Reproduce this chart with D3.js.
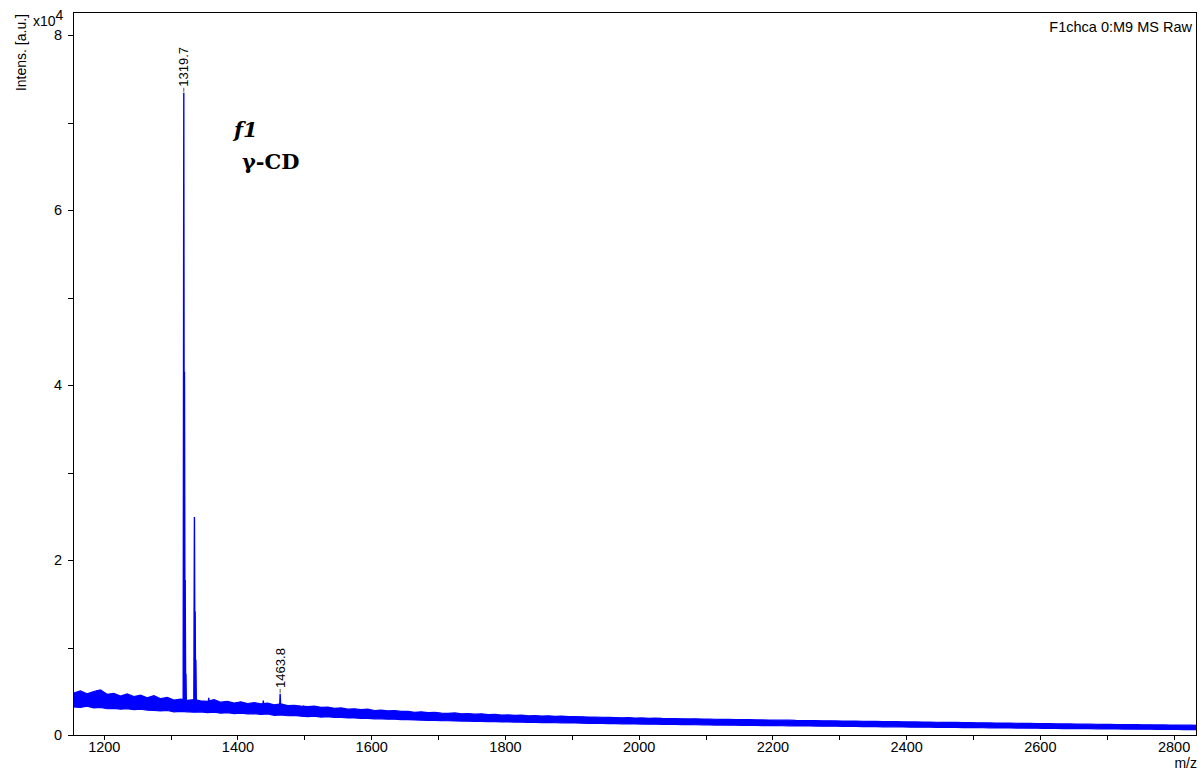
<!DOCTYPE html>
<html>
<head>
<meta charset="utf-8">
<script src="https://cdn.jsdelivr.net/npm/d3@7"></script>
<style>
  body { margin: 0; background: #fff; }
  svg { display: block; }
  text { font-family: Arial, "Liberation Sans", sans-serif; fill: #000; }
</style>
</head>
<body>
<svg id="chart" width="1203" height="773"></svg>
<script>
// MALDI-TOF spectrum of fraction f1 (gamma-cyclodextrin), raw intensities in a.u.

// Noise band of the spectrum: sampled every envStep m/z starting at envStart
const envStart = 1155;
const envStep = 10;
const envHigh = [
  4800, 5050, 4700, 4950, 5150, 4650, 4750, 4450, 4700, 4400,
  4550, 4250, 4500, 4150, 4300, 4000, 4100, 3950, 4050, 3900,
  3850, 4050, 3750, 3850, 3650, 3800, 3600, 3700, 3550, 3650,
  3450, 3550, 3350, 3400, 3300, 3250, 3300, 3150, 3200, 3050,
  3100, 2950, 3000, 2900, 2950, 2800, 2850, 2750, 2800, 2700,
  2700, 2600, 2650, 2550, 2600, 2500, 2480, 2520, 2420, 2450,
  2380, 2420, 2320, 2360, 2280, 2300, 2250, 2270, 2200, 2230,
  2160, 2190, 2130, 2150, 2100, 2110, 2080, 2060, 2040, 2030,
  2010, 1990, 1960, 1980, 1940, 1950, 1910, 1920, 1890, 1880,
  1870, 1860, 1840, 1850, 1820, 1810, 1800, 1790, 1780, 1760,
  1750, 1760, 1730, 1720, 1710, 1700, 1690, 1700, 1670, 1660,
  1650, 1640, 1630, 1620, 1610, 1600, 1590, 1590, 1570, 1560,
  1550, 1540, 1540, 1520, 1510, 1500, 1490, 1480, 1480, 1460,
  1450, 1440, 1440, 1420, 1410, 1400, 1400, 1380, 1370, 1360,
  1360, 1340, 1330, 1330, 1310, 1300, 1300, 1280, 1270, 1270,
  1250, 1240, 1240, 1230, 1210, 1210, 1200, 1190, 1180, 1180,
  1170, 1160, 1150, 1150, 1140, 1130, 1120, 1120, 1110
];
const envLow = [
  3200, 3150, 3300, 3100, 3150, 3000, 3050, 2950, 3000, 2900,
  2950, 2850, 2800, 2750, 2800, 2650, 2700, 2650, 2600, 2650,
  2550, 2600, 2500, 2550, 2450, 2500, 2400, 2450, 2350, 2400,
  2250, 2300, 2200, 2250, 2150, 2100, 2150, 2050, 2100, 2000,
  2000, 1950, 1950, 1900, 1900, 1850, 1850, 1800, 1800, 1760,
  1750, 1720, 1700, 1680, 1670, 1640, 1630, 1610, 1590, 1580,
  1560, 1550, 1530, 1520, 1500, 1490, 1480, 1460, 1450, 1440,
  1420, 1410, 1400, 1390, 1370, 1370, 1350, 1340, 1330, 1320,
  1300, 1300, 1280, 1270, 1260, 1250, 1240, 1230, 1220, 1210,
  1200, 1190, 1180, 1170, 1160, 1150, 1140, 1130, 1120, 1120,
  1110, 1100, 1090, 1080, 1080, 1070, 1060, 1050, 1040, 1040,
  1030, 1020, 1010, 1000, 1000, 990, 980, 970, 960, 960,
  950, 940, 930, 930, 920, 910, 900, 900, 890, 880,
  870, 870, 860, 850, 840, 840, 830, 820, 810, 810,
  800, 790, 790, 780, 770, 760, 760, 750, 740, 740,
  730, 720, 720, 710, 700, 700, 690, 680, 680, 670,
  660, 660, 650, 640, 640, 630, 620, 620, 610
];

// Resolved peaks (m/z, intensity)
const peakMz     = [1190.0, 1319.7, 1320.7, 1321.7, 1322.7, 1335.6, 1336.6, 1337.6, 1357.0, 1438.6, 1463.8, 1498.5, 1917.0];
const peakHeight = [5100,   73400,  41500,  17700,  7000,   24900,  14100,  8600,   4250,   3950,   4700,   3350,   2100];

// Peaks carrying an m/z label
const labeledPeaks = [1319.7, 1463.8];

// Axis ticks
const xTicks = [1200, 1300, 1400, 1500, 1600, 1700, 1800, 1900, 2000, 2100, 2200, 2300, 2400, 2500, 2600, 2700, 2800];
const xLabelled = [1200, 1400, 1600, 1800, 2000, 2200, 2400, 2600, 2800];
const yTicks = [0, 10000, 20000, 30000, 40000, 50000, 60000, 70000, 80000];
const yLabelled = [0, 20000, 40000, 60000, 80000];

const title = "F1chca 0:M9 MS Raw";
const sampleName = "f1";
const compoundName = "\u03b3-CD";

const svg = d3.select("#chart");
const plotLeft = 73, plotRight = 1197, plotTop = 12, plotBottom = 735;

const x = d3.scaleLinear().domain([1154, 2835]).range([plotLeft, plotRight]);
const y = d3.scaleLinear().domain([0, 80000]).range([plotBottom, 35]);

svg.append("defs").append("clipPath").attr("id", "plotClip")
  .append("rect").attr("x", plotLeft).attr("y", plotTop)
  .attr("width", plotRight - plotLeft).attr("height", plotBottom - plotTop);

const plot = svg.append("g").attr("clip-path", "url(#plotClip)");

// Noise band
const band = envHigh.map((h, i) => ({ mz: envStart + i * envStep, hi: h, lo: envLow[i] }));
plot.append("path")
  .datum(band)
  .attr("d", d3.area().x(d => x(d.mz)).y0(d => y(d.lo)).y1(d => y(d.hi)))
  .attr("fill", "#0000ff")
  .attr("stroke", "#0000ff")
  .attr("stroke-width", 1.2)
  .attr("stroke-linejoin", "miter");

// Peaks rise from the middle of the local noise band
function bandMid(mz) {
  const i = Math.max(0, Math.min(band.length - 1, Math.round((mz - envStart) / envStep)));
  return (band[i].hi + band[i].lo) / 2;
}
const peakLine = d3.line().x(d => x(d[0])).y(d => y(d[1]));
peakMz.forEach((mz, i) => {
  const base = bandMid(mz);
  plot.append("path")
    .attr("d", peakLine([[mz - 0.9, base], [mz, peakHeight[i]], [mz + 0.9, base]]))
    .attr("fill", "none")
    .attr("stroke", "#0000ff")
    .attr("stroke-width", 1.4);
});

// Frame
svg.append("rect")
  .attr("x", plotLeft + 0.5).attr("y", plotTop + 0.5)
  .attr("width", plotRight - plotLeft - 1).attr("height", plotBottom - plotTop - 0.5)
  .attr("fill", "none").attr("stroke", "#000").attr("stroke-width", 1)
  .attr("shape-rendering", "crispEdges");

// X axis
const xAxis = svg.append("g")
  .attr("transform", `translate(0,${plotBottom})`)
  .call(d3.axisBottom(x).tickValues(xTicks).tickSize(5).tickPadding(2)
    .tickFormat(d => xLabelled.includes(d) ? d : ""));
xAxis.select(".domain").remove();
xAxis.selectAll("line").attr("stroke", "#000").attr("shape-rendering", "crispEdges");
xAxis.selectAll("text").attr("font-size", 14.5);

// Y axis
const yAxis = svg.append("g")
  .attr("transform", `translate(${plotLeft},0)`)
  .call(d3.axisLeft(y).tickValues(yTicks).tickSize(5).tickPadding(6)
    .tickFormat(d => yLabelled.includes(d) ? d / 10000 : ""));
yAxis.select(".domain").remove();
yAxis.selectAll("line").attr("stroke", "#000").attr("shape-rendering", "crispEdges");
yAxis.selectAll("text").attr("font-size", 14.5);

// Axis titles
svg.append("text")
  .attr("transform", "translate(26,14) rotate(-90)")
  .attr("text-anchor", "end")
  .attr("font-size", 14)
  .text("Intens. [a.u.]");

const expo = svg.append("text").attr("x", 33).attr("y", 26).attr("font-size", 14);
expo.append("tspan").text("x10");
expo.append("tspan").attr("dy", -6).text("4");

svg.append("text")
  .attr("x", plotRight).attr("y", 768)
  .attr("text-anchor", "end")
  .attr("font-size", 14)
  .text("m/z");

svg.append("text")
  .attr("x", plotRight - 5).attr("y", 32)
  .attr("text-anchor", "end")
  .attr("font-size", 14.5)
  .text(title);

// Peak labels
labeledPeaks.forEach(mz => {
  const h = peakHeight[peakMz.indexOf(mz)];
  const px = x(mz), py = y(h);
  svg.append("line")
    .attr("x1", px).attr("x2", px)
    .attr("y1", py - 1).attr("y2", py - 5)
    .attr("stroke", "#555").attr("stroke-width", 1);
  svg.append("text")
    .attr("transform", `translate(${px + 4.5},${py - 6}) rotate(-90)`)
    .attr("text-anchor", "start")
    .attr("font-size", 13)
    .text(mz.toFixed(1));
});

// Sample annotation (serif, bold)
svg.append("text")
  .attr("x", 234).attr("y", 137)
  .style("font-family", "'DejaVu Serif', 'Liberation Serif', serif")
  .style("font-weight", "bold").style("font-style", "italic")
  .style("font-size", "21px")
  .text(sampleName);
svg.append("text")
  .attr("x", 242).attr("y", 169)
  .style("font-family", "'DejaVu Serif', 'Liberation Serif', serif")
  .style("font-weight", "bold")
  .style("font-size", "21px")
  .text(compoundName);
</script>
</body>
</html>
